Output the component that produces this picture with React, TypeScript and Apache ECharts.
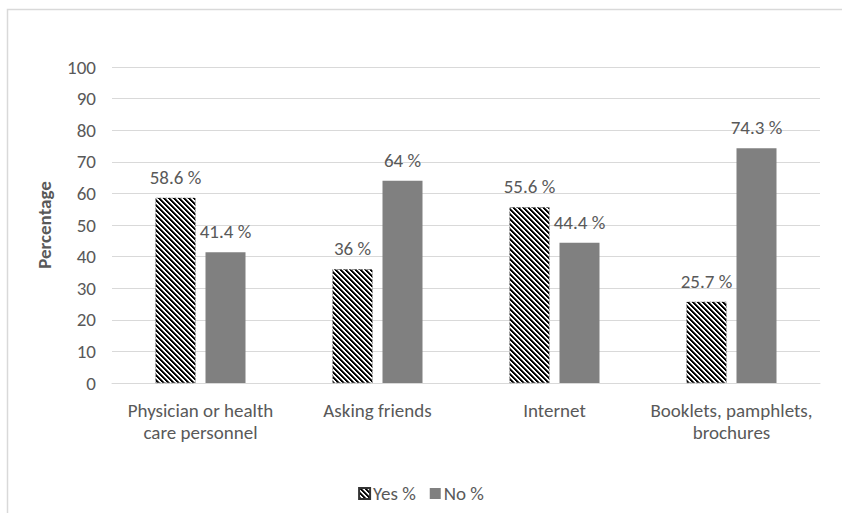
import React, { useEffect, useRef } from "react";
import * as echarts from "echarts";

const categories = [
  "Physician or health\ncare personnel",
  "Asking friends",
  "Internet",
  "Booklets, pamphlets,\nbrochures",
];
const yesValues = [58.6, 36, 55.6, 25.7];
const noValues = [41.4, 64, 44.4, 74.3];
const yTicks = [0, 10, 20, 30, 40, 50, 60, 70, 80, 90, 100];

const FONT = "Carlito, 'Open Sans', 'Noto Sans', sans-serif";
const TEXT = "#595959";
const FS = 19;

function makeStripe(): any {
  const s = 5;
  const c = document.createElement("canvas");
  c.width = s;
  c.height = s;
  const ctx = c.getContext("2d")!;
  const img = ctx.createImageData(s, s);
  for (let y = 0; y < s; y++) {
    for (let x = 0; x < s; x++) {
      const d = (((x - y) % s) + s) % s;
      const v = d <= 1 ? 0 : d === 2 ? 90 : 255;
      const i = (y * s + x) * 4;
      img.data[i] = v;
      img.data[i + 1] = v;
      img.data[i + 2] = v;
      img.data[i + 3] = 255;
    }
  }
  ctx.putImageData(img, 0, 0);
  return { image: c, repeat: "repeat" };
}

export default function App() {
  const ref = useRef<HTMLDivElement>(null);
  useEffect(() => {
    if (!ref.current) return;
    const chart = echarts.init(ref.current, null, { renderer: "svg" });
    const stripe = makeStripe();
    const labelCfg = {
      show: true,
      position: "top" as const,
      distance: 11,
      color: TEXT,
      fontSize: FS,
      fontFamily: FONT,
      formatter: (p: any) => `${p.value} %`,
    };
    chart.setOption({
      animation: false,
      backgroundColor: "#ffffff",
      textStyle: { fontFamily: FONT },
      graphic: [
        {
          type: "rect",
          shape: { x: 7.5, y: 9.5, width: 900, height: 600 },
          style: { fill: "none", stroke: "#d9d9d9", lineWidth: 1.5 },
          silent: true,
          z: -1,
        },
      ],
      grid: { left: 112, right: 22, top: 67, bottom: 130, containLabel: false },
      legend: {
        top: 479,
        left: "center",
        icon: "rect",
        itemWidth: 11,
        itemHeight: 11,
        itemGap: 14,
        textStyle: { color: TEXT, fontSize: FS, fontFamily: FONT, padding: [0, 0, 0, -2] },
        data: ["Yes %", "No %"],
      },
      xAxis: {
        type: "category",
        data: categories,
        axisLine: { show: true, lineStyle: { color: "#d9d9d9", width: 1 } },
        axisTick: { show: false },
        axisLabel: {
          color: TEXT,
          fontSize: FS,
          fontFamily: FONT,
          margin: 16,
          lineHeight: 22,
          interval: 0,
        },
      },
      yAxis: {
        type: "value",
        min: 0,
        max: 100,
        interval: 10,
        name: "Percentage",
        nameLocation: "middle",
        nameGap: 58,
        nameRotate: 90,
        nameTextStyle: {
          color: TEXT,
          fontSize: FS,
          fontWeight: "bold",
          fontFamily: FONT,
        },
        axisLine: { show: false },
        axisTick: { show: false },
        splitLine: { lineStyle: { color: "#d9d9d9", width: 1 } },
        axisLabel: {
          color: TEXT,
          fontSize: FS,
          fontFamily: FONT,
          margin: 16,
          formatter: (v: number) => (yTicks.includes(v) ? String(v) : ""),
        },
      },
      series: [
        {
          name: "Yes %",
          type: "bar",
          data: yesValues,
          barWidth: 40,
          barGap: "25%",
          itemStyle: { color: stripe, borderColor: "#333", borderWidth: 0.5, borderType: "dashed" },
          label: labelCfg,
        },
        {
          name: "No %",
          type: "bar",
          data: noValues,
          barWidth: 40,
          itemStyle: { color: "#808080" },
          label: labelCfg,
        },
      ],
    });
    return () => chart.dispose();
  }, []);
  return (
    <div
      ref={ref}
      style={{ position: "fixed", left: 0, top: 0, width: 842, height: 513 }}
    />
  );
}
